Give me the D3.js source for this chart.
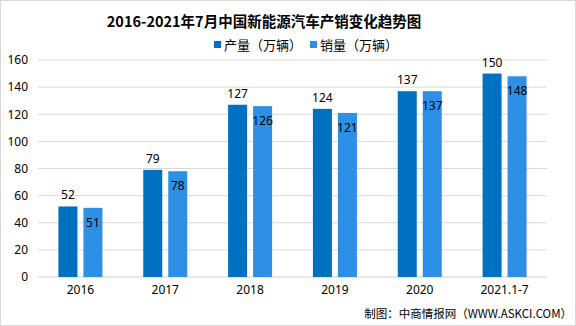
<!DOCTYPE html>
<html><head><meta charset="utf-8">
<script src="https://cdn.jsdelivr.net/npm/d3@7"></script>
<style>body{margin:0;background:#fff}svg{display:block;font-family:"Microsoft YaHei","Noto Sans CJK SC",sans-serif}</style>
</head><body><svg id="c" width="576" height="326"></svg>
<script>
const categories = ["2016","2017","2018","2019","2020","2021.1-7"];
const production = [52,79,127,124,137,150];
const sales = [51,78,126,121,137,148];
const seriesNames = ["产量（万辆）","销量（万辆）"];
const yTicks = [0,20,40,60,80,100,120,140,160];
const colors = ["#0070C0","#2E90E4"];

const svg = d3.select("#c");
svg.append("rect").attr("x",0.5).attr("y",0.5).attr("width",575).attr("height",325)
  .attr("fill","#fff").attr("stroke","#d9d9d9");

const m = {l:38, r:29, t:60, b:49};
const W = 576, H = 326;
const x = d3.scaleBand().domain(categories).range([m.l, W-m.r]);
const y = d3.scaleLinear().domain([0,160]).range([H-m.b, m.t]);

// grid
svg.append("g").selectAll("line").data(yTicks).join("line")
  .attr("x1",m.l).attr("x2",W-m.r).attr("y1",d=>y(d)).attr("y2",d=>y(d))
  .attr("stroke",(d)=>d===0?"#d0d0d0":"#d9d9d9").attr("stroke-width",1);

// y axis labels
const yAxis = d3.axisLeft(y).tickValues(yTicks).tickSize(0).tickPadding(10);
const ya = svg.append("g").attr("transform",`translate(${m.l},0)`).call(yAxis);
ya.select(".domain").remove();
ya.selectAll("text").attr("font-size",12).attr("fill","#000").attr("font-family","Noto Sans, sans-serif");

// x axis labels
const xAxis = d3.axisBottom(x).tickSize(0).tickPadding(8);
const xa = svg.append("g").attr("transform",`translate(0,${H-m.b})`).call(xAxis);
xa.select(".domain").remove();
xa.selectAll("text").attr("font-size",12).attr("fill","#000").attr("font-family","Noto Sans, sans-serif");

const bw = 19, gap = 6;
const sub = d3.scaleOrdinal().domain([0,1]).range([-(bw+gap)/2, (bw+gap)/2]);
const series = [production, sales];
series.forEach((vals,si)=>{
  const g = svg.append("g");
  g.selectAll("rect").data(vals).join("rect")
    .attr("x",(d,i)=>x(categories[i])+x.bandwidth()/2+sub(si)-bw/2)
    .attr("width",bw)
    .attr("y",d=>y(d)).attr("height",d=>y(0)-y(d))
    .attr("fill",colors[si]);
  g.selectAll("text").data(vals).join("text")
    .attr("x",(d,i)=>x(categories[i])+x.bandwidth()/2+sub(si))
    .attr("y",d=> si===0 ? y(d)-7 : y(d)+19)
    .attr("text-anchor","middle").attr("font-size",12).attr("fill","#000")
    .attr("font-family","Noto Sans, sans-serif")
    .text(d=>d);
});

// title
svg.append("text").attr("x",264).attr("y",27).attr("text-anchor","middle")
  .attr("font-size",14.5).attr("font-weight","bold").attr("fill","#000")
  .text("2016-2021年7月中国新能源汽车产销变化趋势图");

// legend
const lx = [214, 310];
seriesNames.forEach((n,i)=>{
  svg.append("rect").attr("x",lx[i]).attr("y",41).attr("width",7).attr("height",7).attr("fill",colors[i]);
  svg.append("text").attr("x",lx[i]+10).attr("y",50).attr("font-size",13).attr("fill","#000").text(n);
});

// source
svg.append("text").attr("x",572).attr("y",318).attr("text-anchor","end")
  .attr("font-size",11.5).attr("fill","#000").text("制图：中商情报网（WWW.ASKCI.COM）");
</script></body></html>
